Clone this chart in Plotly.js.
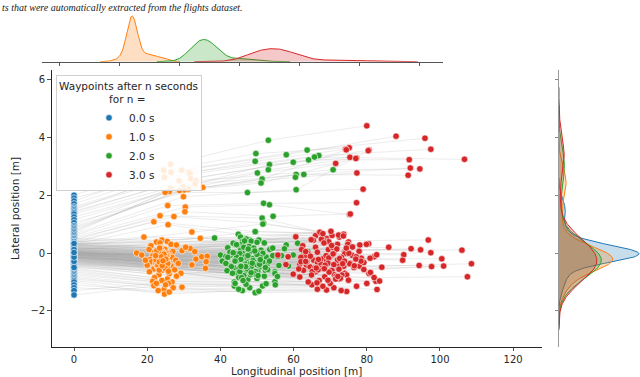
<!DOCTYPE html>
<html>
<head>
<meta charset="utf-8">
<script src="https://cdn.plot.ly/plotly-3.0.1.min.js"></script>
<style>
  html, body { margin: 0; padding: 0; background: #fff; }
  #chart { width: 640px; height: 377px; }
</style>
</head>
<body>
<div id="chart"></div>
<script>
// ─────────────────────────────
// DATA (one row per trajectory, waypoints at t = 0, 1, 2, 3 s)
// rows 1-28: trajectories drifting left, rows 29-100: straight,
// rows 101-180: dense straight core
// ─────────────────────────────
const SERIES_LABELS = ['0.0 s', '1.0 s', '2.0 s', '3.0 s'];

const T0_X = 0; // every trajectory starts at longitudinal 0

const T0_Y = [
  2.0, 1.9, 1.8, 1.7, 1.6, 1.55, 1.5, 1.45, 1.4, 1.35,
  1.25, 1.15, 1.05, 0.95, 0.9, 0.85, 0.8, 0.75, 0.7, 0.65,
  0.6, 0.55, 0.5, 0.45, 0.4, 0.35, 0.3, 0.25,
  0.5, 0.45, 0.4, 0.38, 0.35, 0.32, 0.3, 0.28, 0.26, 0.24,
  0.22, 0.2, 0.18, 0.16, 0.14, 0.12, 0.1, 0.09, 0.08, 0.07,
  0.06, 0.05, 0.04, 0.03, 0.02, 0.01, 0.0, 0.0, -0.01, -0.02,
  -0.03, -0.04, -0.05, -0.06, -0.07, -0.08, -0.1, -0.11, -0.12, -0.14,
  -0.15, -0.17, -0.19, -0.21, -0.23, -0.25, -0.28, -0.31, -0.34, -0.37,
  -0.4, -0.44, -0.48, -0.52, -0.56, -0.6, -0.65, -0.7, -0.75, -0.8,
  -0.85, -0.9, -0.95, -1.0, -1.1, -1.2, -1.3, -1.45, 0.15, 0.11,
  -0.09, -0.18,
  0.4, 0.35, 0.3, 0.28, 0.25, 0.22, 0.2, 0.18, 0.16, 0.14,
  0.12, 0.1, 0.08, 0.06, 0.05, 0.04, 0.03, 0.02, 0.01, 0.0,
  0.0, -0.01, -0.02, -0.03, -0.04, -0.05, -0.06, -0.07, -0.08, -0.09,
  -0.1, -0.11, -0.12, -0.13, -0.14, -0.15, -0.16, -0.18, -0.2, -0.22,
  0.3, 0.2, 0.1, 0.05, 0.0, -0.05, -0.1, -0.15, -0.2, -0.25,
  -0.24, -0.26, -0.28, -0.3, -0.32, -0.34, -0.36, -0.38, -0.4, -0.42,
  0.15, 0.07, -0.02, -0.06, -0.12, -0.17, -0.21, -0.27, -0.33, -0.45,
  0.25, 0.12, 0.0, -0.08, -0.19, -0.29, -0.5, 0.33, -0.14, 0.02
];

const T1_X = [
  26.4, 29.4, 24.5, 26.5, 31.4, 31.7, 24.7, 31.9, 28.7, 33.3,
  33.1, 29.9, 35.2, 26.4, 31.2, 30.1, 28.8, 26.0, 24.9, 29.9,
  25.6, 30.4, 30.3, 23.5, 27.3, 21.8, 25.7, 32.2,
  24.0, 25.5, 23.0, 19.1, 26.5, 22.5, 34.5, 21.0, 28.0, 31.7,
  23.5, 25.0, 20.5, 27.0, 22.0, 24.5, 29.5, 26.0, 17.1, 23.0,
  25.8, 21.5, 33.3, 24.0, 18.5, 26.8, 22.8, 34.9, 25.2, 20.8,
  27.8, 23.8, 36.4, 21.2, 25.5, 36.1, 22.5, 28.5, 24.2, 32.2,
  20.0, 26.5, 23.0, 35.9, 25.0, 21.8, 27.5, 24.0, 29.2, 20.6,
  26.0, 23.2, 28.0, 22.0, 25.5, 24.0, 26.8, 21.5, 25.8, 29.5,
  27.1, 21.8, 24.6, 24.7, 23.0, 26.0, 22.5, 25.0, 30.5, 23.5,
  33.0, 19.5,
  23.7, 24.1, 23.2, 24.8, 23.9, 24.4, 22.7, 25.3, 23.4, 24.3,
  23.8, 24.9, 22.9, 24.0, 24.6, 23.5, 25.5, 22.6, 24.5, 23.7,
  24.2, 25.1, 23.3, 23.9, 24.4, 25.4, 22.5, 23.6, 24.7, 24.1,
  23.0, 24.6, 23.4, 25.1, 22.3, 24.1, 23.3, 25.7, 22.9, 24.8,
  23.9, 24.3, 23.1, 25.3, 23.7, 24.0, 22.7, 24.4, 23.5, 25.0,
  22.6, 24.2, 23.7, 25.2, 22.8, 24.6, 23.4, 25.5, 24.5, 23.2,
  23.9, 24.8, 24.4, 22.4, 23.6, 25.6, 22.9, 24.1, 24.9, 23.3,
  22.6, 24.6, 23.8, 25.1, 23.3, 24.1, 25.8, 23.4, 24.3, 22.3
];
const T1_Y = [
  3.07, 2.87, 2.86, 2.79, 2.79, 2.73, 2.62, 2.57, 2.50, 2.50,
  2.39, 2.28, 2.27, 2.24, 2.21, 2.18, 2.16, 2.13, 2.10, 1.95,
  1.64, 1.59, 1.43, 1.29, 1.26, 1.08, 0.98, 0.73,
  0.45, 0.40, 0.35, 0.55, 0.30, 0.38, 0.51, 0.25, 0.28, 0.16,
  0.20, 0.10, 0.12, 0.05, 0.02, 0.00, 0.08, -0.02, 0.00, -0.05,
  -0.08, -0.10, -0.21, -0.12, -0.07, -0.15, -0.18, -0.13, -0.20, -0.22,
  -0.25, -0.27, -0.11, -0.30, -0.32, -0.30, -0.35, -0.36, -0.40, -0.41,
  -0.42, -0.45, -0.48, -0.53, -0.52, -0.55, -0.58, -0.60, -0.70, -0.65,
  -0.72, -0.75, -0.80, -0.85, -0.90, -0.95, -1.00, -0.98, -1.05, -1.18,
  -1.20, -1.13, -1.26, -1.42, -1.30, -1.35, -1.05, -1.10, 0.20, 0.35,
  0.05, -0.25,
  0.19, 0.15, 0.09, 0.13, 0.05, 0.01, 0.07, -0.01, 0.03, -0.05,
  -0.03, -0.07, -0.09, -0.05, -0.11, -0.13, -0.08, -0.15, -0.14, -0.17,
  -0.19, -0.16, -0.21, -0.23, -0.18, -0.25, -0.22, -0.27, -0.25, -0.29,
  -0.31, -0.28, -0.33, -0.30, -0.35, -0.33, -0.37, -0.39, -0.38, -0.41,
  0.11, 0.02, -0.06, -0.12, -0.17, -0.21, -0.26, -0.29, -0.34, -0.37,
  -0.41, -0.43, -0.40, -0.45, -0.47, -0.45, -0.49, -0.51, -0.49, -0.53,
  0.00, -0.10, -0.20, -0.24, -0.32, -0.36, -0.42, -0.48, -0.53, -0.59,
  0.08, -0.04, -0.13, -0.21, -0.31, -0.44, -0.63, 0.17, -0.27, -0.09
];

const T2_X = [
  53.1, 63.7, 49.7, 58.0, 66.9, 65.7, 49.5, 64.1, 59.9, 70.8,
  62.8, 53.4, 60.7, 53.1, 60.5, 50.1, 51.4, 51.1, 47.4, 60.7,
  51.8, 53.4, 54.4, 51.4, 51.8, 49.5, 44.9, 51.6,
  45.5, 49.5, 47.0, 38.4, 50.5, 46.0, 61.1, 44.0, 52.0, 63.9,
  48.0, 45.5, 42.0, 51.0, 47.5, 49.0, 53.5, 46.5, 40.0, 44.5,
  50.0, 43.0, 59.9, 48.5, 41.5, 52.5, 46.0, 62.7, 49.8, 44.0,
  54.3, 47.0, 56.7, 45.0, 51.0, 63.9, 46.8, 52.8, 41.3, 58.6,
  43.5, 48.0, 42.6, 67.0, 50.5, 45.5, 53.0, 47.0, 54.9, 44.5,
  49.0, 46.0, 52.0, 45.0, 50.0, 47.5, 54.9, 43.8, 51.5, 55.0,
  49.5, 43.8, 48.0, 46.0, 45.0, 50.5, 44.0, 47.0, 58.0, 48.0,
  57.5, 40.5,
  47.1, 48.4, 45.8, 50.0, 47.8, 49.1, 44.6, 51.1, 46.4, 48.7,
  47.5, 50.3, 45.3, 48.0, 49.6, 46.7, 51.6, 44.4, 49.3, 47.3,
  48.5, 50.9, 45.6, 47.6, 48.9, 51.6, 44.0, 46.9, 49.8, 48.2,
  45.5, 49.4, 46.6, 50.7, 43.7, 48.4, 46.2, 52.3, 45.1, 50.2,
  43.5, 54.3, 42.6, 55.7, 42.0, 53.4, 41.5, 56.0, 43.0, 52.9,
  41.8, 48.5, 47.3, 54.9, 43.3, 49.6, 46.4, 55.6, 49.3, 45.8,
  47.6, 50.0, 48.9, 44.0, 46.9, 52.3, 45.3, 48.2, 50.3, 46.2,
  44.4, 49.4, 47.5, 50.9, 45.6, 48.4, 52.5, 46.6, 48.7, 43.5
];
const T2_Y = [
  3.90, 3.56, 3.44, 3.40, 3.37, 3.32, 3.17, 3.22, 3.14, 2.88,
  2.72, 3.06, 2.72, 2.88, 2.62, 2.77, 2.56, 2.42, 2.09, 2.19,
  1.72, 1.67, 1.27, 1.21, 1.03, 0.74, 0.65, 1.00,
  0.55, 0.74, 0.50, 0.52, 0.45, 0.40, 0.34, 0.30, 0.35, 0.05,
  0.22, 0.15, 0.18, 0.10, 0.08, 0.02, 0.12, 0.00, -0.07, -0.03,
  -0.05, -0.08, -0.07, -0.10, -0.12, -0.14, -0.16, -0.05, -0.20, -0.22,
  -0.09, -0.25, -0.09, -0.30, -0.32, -0.20, -0.35, -0.38, -0.36, -0.45,
  -0.40, -0.45, -0.44, -0.51, -0.52, -0.55, -0.60, -0.62, -0.65, -0.68,
  -0.72, -0.78, -0.80, -0.85, -0.88, -0.92, -0.99, -1.00, -1.14, -1.10,
  -1.37, -1.14, -1.20, -1.30, -1.25, -1.32, -1.05, -1.08, 0.28, 0.45,
  0.15, -0.28,
  0.48, 0.41, 0.31, 0.37, 0.23, 0.17, 0.27, 0.10, 0.20, 0.06,
  0.09, 0.00, -0.02, 0.05, -0.07, -0.13, -0.01, -0.14, -0.16, -0.18,
  -0.25, -0.15, -0.22, -0.32, -0.19, -0.31, -0.29, -0.38, -0.34, -0.36,
  -0.45, -0.40, -0.46, -0.39, -0.51, -0.48, -0.50, -0.60, -0.54, -0.64,
  0.34, 0.17, 0.03, -0.12, -0.15, -0.28, -0.36, -0.43, -0.47, -0.57,
  -0.61, -0.67, -0.55, -0.71, -0.70, -0.64, -0.78, -0.81, -0.72, -0.85,
  0.14, -0.05, -0.26, -0.28, -0.47, -0.50, -0.64, -0.75, -0.78, -0.95,
  0.29, 0.07, -0.09, -0.23, -0.46, -0.68, -1.06, 0.42, -0.35, 0.01
];

const T3_X = [
  80.0, 95.9, 75.2, 88.0, 97.5, 106.7, 74.2, 91.6, 80.6, 94.5,
  91.9, 75.4, 91.3, 77.2, 77.3, 71.5, 74.4, 77.0, 79.0, 80.4,
  77.2, 75.3, 75.5, 70.5, 67.1, 67.0, 66.0, 73.7,
  67.2, 73.7, 69.0, 65.1, 78.1, 96.8, 65.4, 68.5, 75.0, 92.1,
  72.0, 66.0, 62.5, 106.0, 69.5, 74.0, 94.7, 71.0, 55.7, 64.0,
  76.0, 63.0, 97.5, 70.0, 62.0, 78.5, 68.0, 90.1, 73.0, 65.5,
  82.0, 69.0, 89.8, 66.5, 75.5, 100.5, 67.5, 80.9, 61.7, 94.3,
  63.5, 72.0, 64.5, 108.6, 76.5, 68.0, 78.0, 70.5, 97.7, 66.0,
  71.1, 101.0, 74.0, 68.5, 107.5, 72.5, 82.5, 67.0, 77.2, 80.0,
  74.5, 65.0, 71.0, 69.0, 66.5, 73.0, 64.0, 70.0, 80.5, 72.5,
  86.0, 62.0,
  70.2, 72.3, 67.6, 73.6, 69.6, 74.8, 65.4, 76.1, 68.3, 71.3,
  70.7, 74.2, 66.5, 71.8, 74.0, 68.9, 77.9, 64.6, 73.1, 69.6,
  72.0, 77.1, 66.8, 69.4, 72.6, 79.2, 63.6, 68.6, 75.3, 71.0,
  65.8, 73.7, 67.8, 76.6, 62.7, 72.4, 66.7, 80.6, 65.1, 74.5,
  60.6, 79.9, 62.2, 82.7, 58.5, 78.4, 57.9, 84.1, 61.4, 81.0,
  59.9, 71.6, 69.7, 82.0, 61.7, 73.2, 69.4, 83.5, 72.8, 66.4,
  70.4, 75.1, 73.9, 63.3, 68.4, 79.2, 64.9, 71.5, 75.0, 68.0,
  64.8, 74.4, 70.8, 77.0, 66.2, 72.1, 82.8, 68.0, 73.4, 63.3
];
const T3_Y = [
  4.40, 3.97, 3.64, 4.04, 3.59, 3.24, 3.59, 3.23, 3.56, 2.91,
  2.94, 3.31, 2.69, 3.29, 2.77, 3.10, 3.57, 3.27, 2.21, 3.54,
  1.74, 1.33, 1.35, 0.61, 0.71, 0.70, 0.60, 0.65,
  0.72, 0.65, 0.50, 0.45, 0.28, 0.45, 0.45, 0.42, 0.38, 0.15,
  0.30, 0.20, 0.25, 0.10, 0.12, 0.05, 0.11, 0.02, -0.07, -0.02,
  -0.08, -0.10, 0.01, -0.12, -0.15, -0.18, -0.20, -0.06, -0.22, -0.25,
  -0.13, -0.28, -0.25, -0.32, -0.35, -0.20, -0.38, -0.18, -0.39, -0.43,
  -0.42, -0.45, -0.48, -0.37, -0.50, -0.55, -0.45, -0.60, -0.47, -0.65,
  -0.75, -0.45, -0.70, -0.82, -0.82, -0.90, -0.98, -0.95, -1.15, -1.05,
  -1.33, -1.10, -1.20, -1.28, -1.25, -1.30, -1.00, -1.05, 0.32, 0.55,
  0.20, -0.30,
  0.75, 0.62, 0.48, 0.59, 0.39, 0.30, 0.44, 0.21, 0.35, 0.16,
  0.19, 0.08, 0.03, 0.14, -0.02, -0.09, 0.06, -0.11, -0.15, -0.17,
  -0.24, -0.13, -0.22, -0.35, -0.19, -0.33, -0.31, -0.42, -0.37, -0.40,
  -0.51, -0.46, -0.53, -0.44, -0.60, -0.56, -0.58, -0.71, -0.64, -0.76,
  0.56, 0.30, 0.12, -0.06, -0.13, -0.28, -0.40, -0.49, -0.55, -0.67,
  -0.73, -0.80, -0.66, -0.85, -0.83, -0.76, -0.94, -0.97, -0.87, -1.03,
  0.26, -0.01, -0.28, -0.29, -0.54, -0.57, -0.76, -0.90, -0.94, -1.15,
  0.46, 0.17, -0.03, -0.21, -0.52, -0.81, -1.26, 0.67, -0.37, 0.05
];

const COLORS = ['#1f77b4', '#ff7f0e', '#2ca02c', '#d62728'];
const FILLS = [
  'rgba(31,119,180,0.25)', 'rgba(255,127,14,0.25)',
  'rgba(44,160,44,0.25)', 'rgba(214,39,40,0.25)'
];


// ─────────────────────────────
// Helpers
// ─────────────────────────────
function _std(v) {
  const m = v.reduce((a, b) => a + b, 0) / v.length;
  const s = v.reduce((a, b) => a + (b - m) * (b - m), 0) / (v.length - 1);
  return Math.sqrt(s);
}

// gaussian kde, scott bandwidth, cut = 3 (same as seaborn)
function _kde(values, steps = 240) {
  const n = values.length;
  const bw = _std(values) * Math.pow(n, -0.2);
  const lo = Math.min(...values) - 3 * bw;
  const hi = Math.max(...values) + 3 * bw;
  const grid = [];
  const dens = [];
  const norm = 1 / (n * bw * Math.sqrt(2 * Math.PI));
  for (let i = 0; i < steps; i++) {
    const g = lo + (hi - lo) * i / (steps - 1);
    let s = 0;
    values.forEach(v => {
      const z = (g - v) / bw;
      s += Math.exp(-0.5 * z * z);
    });
    grid.push(g);
    dens.push(s * norm);
  }
  return { grid, dens };
}


// ─────────────────────────────
// Traces
// ─────────────────────────────
const xs = [T0_Y.map(() => T0_X), T1_X, T2_X, T3_X];
const ys = [T0_Y, T1_Y, T2_Y, T3_Y];

// gray trajectory lines
const lineX = [];
const lineY = [];
T0_Y.forEach((_, i) => {
  for (let k = 0; k < 4; k++) {
    lineX.push(xs[k][i]);
    lineY.push(ys[k][i]);
  }
  lineX.push(null);
  lineY.push(null);
});

const traces = [{
  x: lineX,
  y: lineY,
  mode: 'lines',
  type: 'scatter',
  line: { color: 'rgba(165,165,165,0.35)', width: 0.6 },
  hoverinfo: 'skip',
  showlegend: false
}];

SERIES_LABELS.forEach((label, k) => {
  traces.push({
    x: xs[k],
    y: ys[k],
    name: label,
    mode: 'markers',
    type: 'scatter',
    marker: { color: COLORS[k], size: 6.5, line: { color: '#fff', width: 0.6 } }
  });
});

// top marginal (blue has no spread in x, seaborn skips it)
let topMax = 0;
for (let k = 1; k < 4; k++) {
  const d = _kde(xs[k]);
  topMax = Math.max(topMax, ...d.dens);
  traces.push({
    x: d.grid, y: d.dens, xaxis: 'x2', yaxis: 'y2',
    mode: 'lines', type: 'scatter', fill: 'tozeroy',
    fillcolor: FILLS[k], line: { color: COLORS[k], width: 1 },
    hoverinfo: 'skip', showlegend: false
  });
}

// right marginal
let rightMax = 0;
for (let k = 0; k < 4; k++) {
  const d = _kde(ys[k]);
  rightMax = Math.max(rightMax, ...d.dens);
  traces.push({
    x: d.dens, y: d.grid, xaxis: 'x3', yaxis: 'y3',
    mode: 'lines', type: 'scatter', fill: 'tozerox',
    fillcolor: FILLS[k], line: { color: COLORS[k], width: 1 },
    hoverinfo: 'skip', showlegend: false
  });
}


// ─────────────────────────────
// Layout
// ─────────────────────────────
const X_RANGE = [-6.1, 127.8];
const Y_RANGE = [-3.25, 6.33];
const TXT = '#262626';
const PAD = '&nbsp;'.repeat(15);

const layout = {
  width: 640,
  height: 377,
  margin: { l: 0, r: 0, t: 0, b: 0 },
  paper_bgcolor: '#fff',
  plot_bgcolor: '#fff',
  font: { family: 'DejaVu Sans', size: 10, color: TXT },
  showlegend: true,
  xaxis: {
    domain: [0.0808, 0.8464], range: X_RANGE, anchor: 'y',
    tick0: 0, dtick: 20, ticks: 'outside', ticklen: 3.5, tickwidth: 0.8, tickcolor: TXT,
    showline: true, linecolor: TXT, linewidth: 1, showgrid: false, zeroline: false,
    title: { text: 'Longitudinal position [m]', font: { size: 10.5 }, standoff: 5 }
  },
  yaxis: {
    domain: [0.0796, 0.8143], range: Y_RANGE, anchor: 'x',
    tick0: 0, dtick: 2, ticks: 'outside', ticklen: 3.5, tickwidth: 0.8, tickcolor: TXT,
    showline: true, linecolor: TXT, linewidth: 1, showgrid: false, zeroline: false,
    title: { text: 'Lateral position [m]', font: { size: 10.5 }, standoff: 8 }
  },
  xaxis2: {
    domain: [0.0652, 0.6917], range: X_RANGE, anchor: 'y2',
    tick0: 0, dtick: 20, ticks: 'outside', ticklen: 3, tickcolor: '#555',
    showticklabels: false, showline: true, linecolor: '#555', linewidth: 1.5,
    showgrid: false, zeroline: false
  },
  yaxis2: {
    domain: [0.8363, 0.9637], range: [0, topMax * 1.05], anchor: 'x2', visible: false
  },
  xaxis3: {
    domain: [0.8734, 1], range: [0, rightMax * 1.012], anchor: 'y3', visible: false
  },
  yaxis3: {
    domain: [0.0796, 0.8143], range: Y_RANGE, anchor: 'x3',
    tick0: 0, dtick: 2, ticks: 'outside', ticklen: 3, tickcolor: '#888',
    showticklabels: false, showline: true, linecolor: '#999', linewidth: 1.2,
    showgrid: false, zeroline: false
  },
  legend: {
    x: 0.0875, y: 0.801, xanchor: 'left', yanchor: 'top',
    bgcolor: 'rgba(255,255,255,0.85)', bordercolor: '#d0d0d0', borderwidth: 1,
    font: { size: 10.5, color: TXT },
    indentation: 32,
    title: { text: 'Waypoints after n seconds<br>' + PAD + 'for n =', font: { size: 10.5 } }
  },
  annotations: [{
    text: '<i>ts that were automatically extracted from the flights dataset.</i>',
    xref: 'paper', yref: 'paper', x: 0, y: 1, xanchor: 'left', yanchor: 'top',
    showarrow: false,
    font: { family: 'Liberation Serif', size: 10, color: '#222' }
  }]
};

Plotly.newPlot('chart', traces, layout, { staticPlot: true });
</script>
</body>
</html>
